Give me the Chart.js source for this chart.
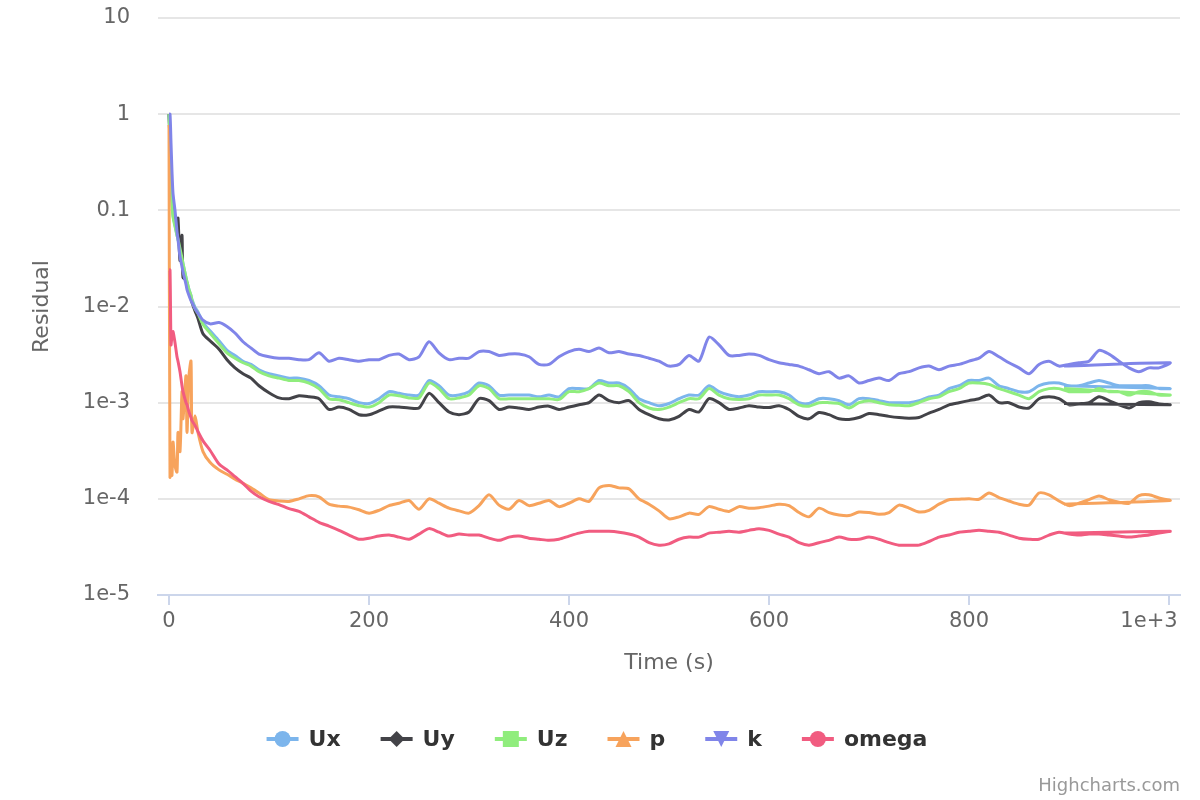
<!DOCTYPE html>
<html>
<head>
<meta charset="utf-8">
<title>Residuals</title>
<script src="https://cdn.jsdelivr.net/npm/chart.js@4/dist/chart.umd.min.js"></script>
<style>
  body { margin: 0; background: #ffffff; }
  #wrap { width: 1200px; height: 800px; }
</style>
</head>
<body>
<div id="wrap"><canvas id="residuals" width="1200" height="800"></canvas></div>
<script>
// time steps (s); the last entry goes back to the restart point
const times = [
  0, 1, 2, 3, 4, 6, 8, 9, 11, 13, 14, 17, 18, 20, 22, 23, 26, 29, 34, 41, 50, 58, 66, 74, 82, 90,
  100, 110, 120, 130, 140, 150, 160, 170, 180, 190,
  200, 210, 220, 230, 240, 250, 260, 270, 280, 290,
  300, 310, 320, 330, 340, 350, 360, 370, 380, 390,
  400, 410, 420, 430, 440, 450, 460, 470, 480, 490,
  500, 510, 520, 530, 540, 550, 560, 570, 580, 590,
  600, 610, 620, 630, 640, 650, 660, 670, 680, 690,
  700, 710, 720, 730, 740, 750, 760, 770, 780, 790,
  800, 810, 820, 830, 840, 850, 860, 870, 880, 890,
  900, 910, 920, 930, 940, 950, 960, 970, 980, 990,
  1001, 895
];

const ux = [
  1.0, 0.6, 0.25, 0.13, 0.09, 0.07, 0.055, 0.05, 0.04, 0.032, 0.028, 0.02, 0.018, 0.015, 0.013, 0.0118, 0.0098, 0.0088, 0.0068, 0.0056, 0.0044, 0.0035, 0.0031, 0.0027, 0.0025, 0.0022,
  0.0020, 0.0019, 0.0018, 0.0018, 0.0017, 0.0015, 0.0012, 0.00115, 0.0011, 0.0010,
  0.00098, 0.0011, 0.0013, 0.00125, 0.0012, 0.0012, 0.0017, 0.0015, 0.0012, 0.0012,
  0.0013, 0.0016, 0.0015, 0.0012, 0.0012, 0.0012, 0.0012, 0.00115, 0.0012, 0.00115,
  0.0014, 0.0014, 0.0014, 0.0017, 0.0016, 0.0016, 0.0014, 0.0011, 0.0010, 0.00093,
  0.00098, 0.0011, 0.0012, 0.0012, 0.0015, 0.0013, 0.0012, 0.00115, 0.0012, 0.0013,
  0.0013, 0.0013, 0.0012, 0.0010, 0.00098, 0.0011, 0.0011, 0.00105, 0.00095, 0.0011,
  0.0011, 0.00105, 0.0010, 0.0010, 0.0010, 0.00105, 0.00115, 0.0012, 0.0014, 0.0015,
  0.0017, 0.0017, 0.0018, 0.0015, 0.0014, 0.0013, 0.0013, 0.0015, 0.0016, 0.0016,
  0.0015, 0.0015, 0.0016, 0.0017, 0.0016, 0.0015, 0.0015, 0.0015, 0.0015, 0.0014,
  0.0014, 0.0015
];

const uy = [
  1.0, 0.5, 0.25, 0.15, 0.1, 0.085, 0.08, 0.083, 0.03, 0.055, 0.02, 0.019, 0.017, 0.014, 0.012, 0.011, 0.009, 0.0075, 0.0052, 0.0044, 0.0036, 0.0028, 0.0023, 0.0020, 0.0018, 0.0015,
  0.00127, 0.00112, 0.0011, 0.00118, 0.00115, 0.0011, 0.00085, 0.0009, 0.00085, 0.00075,
  0.00075, 0.00082, 0.0009, 0.0009, 0.00088, 0.00088, 0.00125, 0.0010, 0.0008, 0.00075,
  0.0008, 0.0011, 0.00105, 0.00085, 0.0009, 0.00088, 0.00085, 0.0009, 0.00092, 0.00085,
  0.0009, 0.00095, 0.0010, 0.0012, 0.00105, 0.0010, 0.00105, 0.00085, 0.00075, 0.00068,
  0.00066, 0.00072, 0.00085, 0.0008, 0.0011, 0.0010, 0.00085, 0.00088, 0.00093, 0.0009,
  0.00089, 0.00093, 0.00085, 0.00072, 0.00068, 0.00079, 0.00075, 0.00068, 0.00067, 0.0007,
  0.00077, 0.00075, 0.00072, 0.0007, 0.00069, 0.0007, 0.00078, 0.00085, 0.00095, 0.0010,
  0.00105, 0.0011, 0.0012, 0.0010, 0.0010, 0.0009, 0.00088, 0.0011, 0.00115, 0.0011,
  0.00095, 0.00097, 0.0010, 0.00115, 0.00105, 0.00095, 0.00088, 0.0010, 0.00102, 0.00097,
  0.00095, 0.00098
];

const uz = [
  1.0, 0.5, 0.22, 0.12, 0.085, 0.068, 0.055, 0.05, 0.04, 0.032, 0.028, 0.02, 0.018, 0.015, 0.013, 0.0115, 0.0095, 0.0085, 0.0065, 0.0053, 0.0041, 0.0033, 0.0029, 0.0026, 0.0024, 0.0021,
  0.0019, 0.0018, 0.0017, 0.0017, 0.0016, 0.0014, 0.0011, 0.00107, 0.0010, 0.00093,
  0.00090, 0.0010, 0.0012, 0.00118, 0.00112, 0.00112, 0.0016, 0.0014, 0.0011, 0.00112,
  0.0012, 0.0015, 0.0014, 0.0011, 0.0011, 0.0011, 0.0011, 0.0011, 0.0011, 0.00108,
  0.0013, 0.0013, 0.0014, 0.0016, 0.0015, 0.0015, 0.0013, 0.0010, 0.00088, 0.00085,
  0.00090, 0.0010, 0.0011, 0.0011, 0.0014, 0.0012, 0.0011, 0.00108, 0.0011, 0.0012,
  0.0012, 0.0012, 0.0011, 0.00095, 0.00092, 0.0010, 0.0010, 0.00098, 0.00088, 0.0010,
  0.00105, 0.0010, 0.00095, 0.00094, 0.00093, 0.0010, 0.0011, 0.00115, 0.0013, 0.0014,
  0.0016, 0.0016, 0.00155, 0.0014, 0.0013, 0.0012, 0.0011, 0.0013, 0.0014, 0.0014,
  0.0013, 0.0013, 0.0013, 0.0014, 0.0013, 0.0013, 0.0012, 0.0013, 0.0013, 0.0012,
  0.0012, 0.0014
];

const p = [
  0.77, 1.7e-4, 3.5e-4, 1.75e-4, 3.9e-4, 2.2e-4, 1.9e-4, 4.9e-4, 3.1e-4, 1.3e-3, 6.8e-4, 1.9e-3, 4.9e-4, 1.9e-3, 2.7e-3, 4.9e-4, 7.3e-4, 4.9e-4, 3.1e-4, 2.4e-4, 2.0e-4, 1.8e-4, 1.6e-4, 1.45e-4, 1.3e-4, 1.15e-4,
  9.8e-5, 9.5e-5, 9.4e-5, 1.0e-4, 1.08e-4, 1.05e-4, 8.8e-5, 8.4e-5, 8.2e-5, 7.7e-5,
  7.1e-5, 7.6e-5, 8.5e-5, 9.0e-5, 9.6e-5, 7.8e-5, 1.0e-4, 9.0e-5, 8.0e-5, 7.5e-5,
  7.1e-5, 8.5e-5, 1.1e-4, 8.6e-5, 7.8e-5, 9.6e-5, 8.5e-5, 9.0e-5, 9.6e-5, 8.3e-5,
  9.0e-5, 1.0e-4, 9.4e-5, 1.3e-4, 1.38e-4, 1.3e-4, 1.27e-4, 1.0e-4, 8.8e-5, 7.5e-5,
  6.2e-5, 6.5e-5, 7.1e-5, 6.9e-5, 8.3e-5, 7.8e-5, 7.4e-5, 8.3e-5, 8.0e-5, 8.1e-5,
  8.4e-5, 8.8e-5, 8.5e-5, 7.2e-5, 6.5e-5, 8.0e-5, 7.2e-5, 6.8e-5, 6.7e-5, 7.3e-5,
  7.2e-5, 6.9e-5, 7.2e-5, 8.6e-5, 8.0e-5, 7.3e-5, 7.6e-5, 8.8e-5, 9.8e-5, 9.9e-5,
  1.0e-4, 9.9e-5, 1.15e-4, 1.03e-4, 9.5e-5, 8.8e-5, 8.6e-5, 1.15e-4, 1.1e-4, 9.5e-5,
  8.5e-5, 9.0e-5, 9.8e-5, 1.07e-4, 9.8e-5, 9.2e-5, 9.0e-5, 1.08e-4, 1.1e-4, 1.02e-4,
  9.6e-5, 8.8e-5
];

const k = [
  1.0, 1.0, 0.5, 0.25, 0.15, 0.1, 0.06, 0.05, 0.033, 0.026, 0.023, 0.017, 0.015, 0.013, 0.0115, 0.011, 0.0095, 0.0085, 0.0072, 0.0066, 0.0068, 0.0062, 0.0053, 0.0043, 0.0037, 0.0032,
  0.0030, 0.0029, 0.0029, 0.0028, 0.0028, 0.0033, 0.0027, 0.0029, 0.0028, 0.0027,
  0.0028, 0.0028, 0.0031, 0.0032, 0.0028, 0.0030, 0.0043, 0.0033, 0.0028, 0.0029,
  0.0029, 0.0034, 0.0034, 0.0031, 0.0032, 0.0032, 0.0030, 0.0025, 0.0025, 0.0030,
  0.0034, 0.0036, 0.0034, 0.0037, 0.0033, 0.0034, 0.0032, 0.0031, 0.0029, 0.0027,
  0.0024, 0.0025, 0.0031, 0.0027, 0.0048, 0.0040, 0.0031, 0.0031, 0.0032, 0.0031,
  0.0028, 0.0026, 0.0025, 0.0024, 0.0022, 0.0020, 0.0021, 0.0018, 0.0019, 0.0016,
  0.0017, 0.0018, 0.0017, 0.0020, 0.0021, 0.0023, 0.0024, 0.0022, 0.0024, 0.0025,
  0.0027, 0.0029, 0.0034, 0.0030, 0.0026, 0.0023, 0.0020, 0.0025, 0.0027, 0.0024,
  0.0025, 0.0026, 0.0027, 0.0035, 0.0032, 0.0027, 0.0023, 0.0021, 0.0023, 0.0023,
  0.0026, 0.0024
];

const omega = [
  0.024, 0.024, 0.004, 0.005, 0.0055, 0.0042, 0.003, 0.0027, 0.0021, 0.0015, 0.0013, 0.001, 0.00095, 0.0008, 0.0007, 0.00065, 0.00058, 0.0005, 0.0004, 0.00032, 0.00023, 0.0002, 0.00017, 0.000145, 0.00012, 0.000105,
  9.4e-5, 8.7e-5, 7.9e-5, 7.4e-5, 6.5e-5, 5.7e-5, 5.2e-5, 4.7e-5, 4.2e-5, 3.8e-5,
  3.9e-5, 4.1e-5, 4.2e-5, 4.0e-5, 3.8e-5, 4.3e-5, 4.9e-5, 4.5e-5, 4.1e-5, 4.3e-5,
  4.2e-5, 4.2e-5, 3.9e-5, 3.7e-5, 4.0e-5, 4.1e-5, 3.9e-5, 3.8e-5, 3.7e-5, 3.8e-5,
  4.1e-5, 4.4e-5, 4.6e-5, 4.6e-5, 4.6e-5, 4.5e-5, 4.3e-5, 4.0e-5, 3.5e-5, 3.3e-5,
  3.4e-5, 3.8e-5, 4.0e-5, 4.0e-5, 4.4e-5, 4.5e-5, 4.6e-5, 4.5e-5, 4.7e-5, 4.9e-5,
  4.7e-5, 4.3e-5, 4.0e-5, 3.5e-5, 3.3e-5, 3.5e-5, 3.7e-5, 4.0e-5, 3.8e-5, 3.8e-5,
  4.0e-5, 3.8e-5, 3.5e-5, 3.3e-5, 3.3e-5, 3.3e-5, 3.6e-5, 4.0e-5, 4.2e-5, 4.5e-5,
  4.6e-5, 4.7e-5, 4.6e-5, 4.5e-5, 4.2e-5, 3.9e-5, 3.8e-5, 3.8e-5, 4.2e-5, 4.5e-5,
  4.3e-5, 4.2e-5, 4.3e-5, 4.3e-5, 4.2e-5, 4.1e-5, 4.0e-5, 4.1e-5, 4.2e-5, 4.4e-5,
  4.6e-5, 4.4e-5
];

const seriesNames = ['Ux', 'Uy', 'Uz', 'p', 'k', 'omega'];
const seriesColors = ['#7cb5ec', '#434348', '#90ed7d', '#f7a35c', '#8085e9', '#f15c80'];
const seriesSymbols = ['circle', 'diamond', 'square', 'triangle', 'triangle-down', 'circle'];

const xTickValues = [0, 200, 400, 600, 800, 1000];
const xTickLabels = ['0', '200', '400', '600', '800', '1e+3      ']; // trailing spaces keep the last label inside
const yTickValues = [1e-5, 1e-4, 1e-3, 1e-2, 0.1, 1, 10];
const yTickLabels = ['1e-5', '1e-4', '1e-3', '1e-2', '0.1', '1', '10'];

const FONT = '"DejaVu Sans", sans-serif';

function toPoints(values) {
  return times.map((t, i) => ({ x: t, y: values[i] }));
}

const allValues = [ux, uy, uz, p, k, omega];
const datasets = allValues.map((vals, i) => ({
  label: seriesNames[i],
  data: toPoints(vals),
  borderColor: seriesColors[i],
  backgroundColor: seriesColors[i],
  borderWidth: 3,
  pointRadius: 0,
  tension: 0.25,
  fill: false,
  order: allValues.length - i  // later series on top, like the original
}));

// small marker drawer for the legend
function drawSymbol(ctx, type, x, y, r) {
  ctx.beginPath();
  if (type === 'circle') {
    ctx.arc(x, y, r, 0, Math.PI * 2);
  } else if (type === 'square') {
    ctx.rect(x - r, y - r, r * 2, r * 2);
  } else if (type === 'diamond') {
    ctx.moveTo(x, y - r); ctx.lineTo(x + r, y); ctx.lineTo(x, y + r); ctx.lineTo(x - r, y);
  } else if (type === 'triangle') {
    ctx.moveTo(x, y - r); ctx.lineTo(x + r, y + r); ctx.lineTo(x - r, y + r);
  } else if (type === 'triangle-down') {
    ctx.moveTo(x - r, y - r); ctx.lineTo(x + r, y - r); ctx.lineTo(x, y + r);
  }
  ctx.closePath();
  ctx.fill();
}

const legendPlugin = {
  id: 'hcLegend',
  afterDraw(chart) {
    const ctx = chart.ctx;
    ctx.save();
    ctx.font = 'bold 22px ' + FONT;
    ctx.textBaseline = 'middle';
    const symbolW = 32, symbolPad = 10, itemGap = 40;
    const widths = seriesNames.map(n => symbolW + symbolPad + ctx.measureText(n).width);
    const total = widths.reduce((a, b) => a + b, 0) + itemGap * (widths.length - 1);
    let x = 597 - total / 2;
    const y = 739;
    seriesNames.forEach((name, i) => {
      ctx.strokeStyle = seriesColors[i];
      ctx.fillStyle = seriesColors[i];
      ctx.lineWidth = 4;
      ctx.beginPath();
      ctx.moveTo(x, y);
      ctx.lineTo(x + symbolW, y);
      ctx.stroke();
      drawSymbol(ctx, seriesSymbols[i], x + symbolW / 2, y, 8);
      ctx.fillStyle = '#333333';
      ctx.textAlign = 'left';
      ctx.fillText(name, x + symbolW + symbolPad, y + 1);
      x += widths[i] + itemGap;
    });
    // credits
    ctx.font = '18px ' + FONT;
    ctx.fillStyle = '#999999';
    ctx.textAlign = 'right';
    ctx.textBaseline = 'alphabetic';
    ctx.fillText('Highcharts.com', 1180, 791);
    ctx.restore();
  }
};

new Chart(document.getElementById('residuals'), {
  type: 'line',
  data: { datasets: datasets },
  plugins: [legendPlugin],
  options: {
    responsive: false,
    animation: false,
    layout: { padding: { left: 0, right: 20, top: 18, bottom: 0 } },
    plugins: {
      legend: { display: false },
      tooltip: { enabled: false }
    },
    scales: {
      x: {
        type: 'linear',
        min: -11,
        max: 1011,
        afterBuildTicks: (scale) => { scale.ticks = xTickValues.map(v => ({ value: v })); },
        afterFit: (scale) => {
          scale.height = 205;
          scale.paddingLeft = 0;
          scale.paddingRight = 0;
        },
        ticks: {
          callback: (value, index) => xTickLabels[index],
          color: '#666666',
          font: { family: FONT, size: 21 },
          padding: 4,
          maxRotation: 0
        },
        grid: {
          drawOnChartArea: false,
          drawTicks: true,
          tickLength: 10,
          color: '#ccd6eb',
          lineWidth: 2
        },
        border: { display: true, color: '#ccd6eb', width: 2 },
        title: {
          display: true,
          text: 'Time (s)',
          color: '#666666',
          font: { family: FONT, size: 22 },
          padding: { top: 0, bottom: 124 }
        }
      },
      y: {
        type: 'logarithmic',
        min: 1e-5,
        max: 10,
        afterBuildTicks: (scale) => { scale.ticks = yTickValues.map(v => ({ value: v })); },
        afterFit: (scale) => {
          scale.width = 158;
          scale.paddingTop = 0;
          scale.paddingBottom = 0;
        },
        ticks: {
          callback: (value, index) => yTickLabels[index],
          color: '#666666',
          font: { family: FONT, size: 21 },
          padding: 28
        },
        grid: {
          color: '#e6e6e6',
          lineWidth: 2,
          drawTicks: false
        },
        border: { display: false },
        title: {
          display: true,
          text: 'Residual',
          color: '#666666',
          font: { family: FONT, size: 22 },
          padding: { top: 29, bottom: 0 }
        }
      }
    }
  }
});
</script>
</body>
</html>
